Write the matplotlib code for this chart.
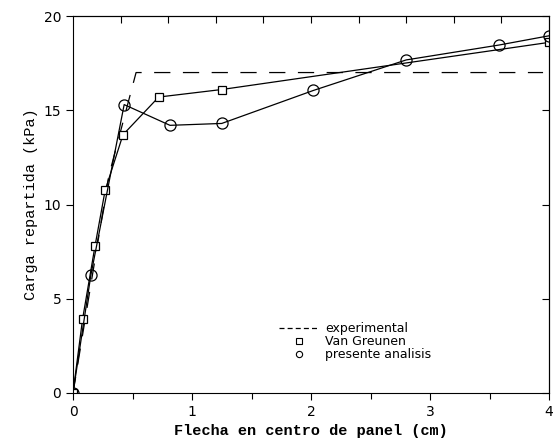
import matplotlib
matplotlib.use("Agg")
import matplotlib.pyplot as plt
import numpy as np

# Data
exp_x = [0.0, 0.30, 0.53, 3.95]
exp_y = [0.0, 11.5, 17.0, 17.0]

vg_x = [0.0, 0.08, 0.185, 0.27, 0.42, 0.72, 1.25, 4.0]
vg_y = [0.0, 3.9, 7.8, 10.75, 13.7, 15.7, 16.1, 18.6]

pa_x = [0.0, 0.15, 0.43, 0.815, 1.25, 2.02, 2.80, 3.58, 4.0]
pa_y = [0.0, 6.25, 15.3, 14.2, 14.3, 16.05, 17.67, 18.46, 18.95]

xticks = [0, 1, 2, 3, 4]
yticks = [0, 5, 10, 15, 20]

fig = plt.figure(figsize=(5.53, 4.44), dpi=100)
ax = fig.add_axes([73/553, 1-393/444, (549-73)/553, (393-16)/444])

ax.plot(exp_x, exp_y, color='black', lw=0.9, dashes=(13, 10))
ax.plot(vg_x, vg_y, color='black', lw=0.9, marker='s', ms=6, mfc='white', mec='black', mew=0.9)
ax.plot(pa_x, pa_y, color='black', lw=0.9, marker='o', ms=8, mfc='none', mec='black', mew=0.9)

# legend proxies
h1, = ax.plot([], [], color='black', lw=0.9, dashes=(4, 2.5))
h2, = ax.plot([], [], ls='none', marker='s', ms=4.5, mfc='white', mec='black', mew=0.8)
h3, = ax.plot([], [], ls='none', marker='o', ms=4.5, mfc='white', mec='black', mew=0.8)
leg = ax.legend([h1, h2, h3], ['experimental', 'Van Greunen', 'presente analisis'],
                loc='upper left', bbox_to_anchor=(0.42, 0.205), frameon=False,
                prop={'family': 'DejaVu Sans', 'size': 9}, handlelength=3.2,
                labelspacing=0.0, handletextpad=0.5, borderpad=0)

ax.set_xlim(0, 4)
ax.set_ylim(0, 20)
ax.set_xticks(xticks)
ax.set_yticks(yticks)
ax.set_xticks(np.arange(0.5, 4, 1.0), minor=True)
ax.tick_params(axis='both', direction='out', length=5, width=0.8, labelsize=10)
ax.tick_params(axis='x', which='minor', direction='out', length=4, width=0.8)
for lab in ax.get_xticklabels() + ax.get_yticklabels():
    lab.set_family('DejaVu Sans')

sec_x = ax.secondary_xaxis('top')
sec_x.set_xticks(np.arange(0.4, 4.0, 0.4))
sec_x.tick_params(direction='in', length=5, width=0.8, labeltop=False)
sec_y = ax.secondary_yaxis('right')
sec_y.set_yticks(yticks)
sec_y.tick_params(direction='in', length=5, width=0.8, labelright=False)

ax.set_xlabel('Flecha en centro de panel (cm)', family='Liberation Mono',
              fontweight='bold', fontsize=11)
ax.set_ylabel('Carga repartida (kPa)', family='Liberation Mono', fontsize=11)

fig.savefig('out.png', dpi=100)
